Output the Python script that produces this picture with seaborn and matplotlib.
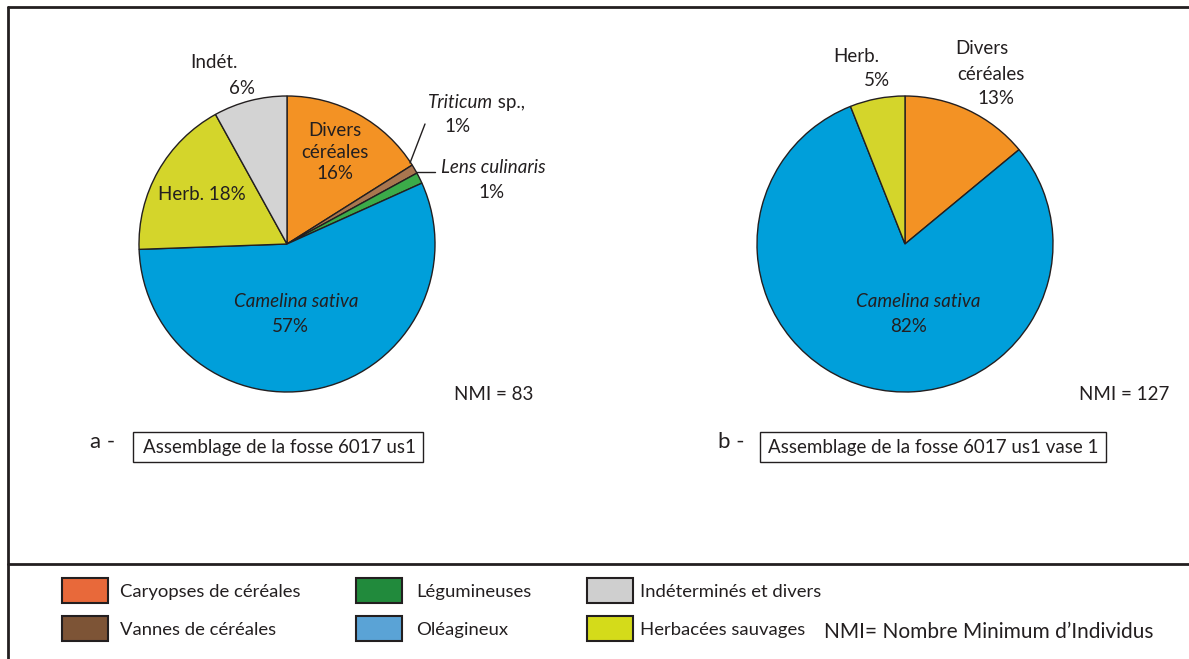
import matplotlib.pyplot as plt
import seaborn as sns
from matplotlib.patches import Rectangle
from matplotlib.lines import Line2D

# data <<<<<<<<<<<<<<<<<<
names_a = ['Divers\ncéréales', 'Triticum', 'Lens culinaris', 'Camelina sativa', 'Herb.', 'Indét.']
vals_a = [16, 1, 1.2, 56, 17.5, 8]          # wedge sizes
pct_a = ['16%', '1%', '1%', '57%', '18%', '6%']
cols_a = ['#f39224', '#a9764f', '#3bab49', '#009fda', '#d4d52b', '#d3d3d3']

names_b = ['Divers', 'céréales', 'Camelina sativa', 'Herb.']
vals_b = [14, 80, 6]
pct_b = ['13%', '82%', '5%']
cols_b = ['#f39224', '#009fda', '#d4d52b']

nmi_a = 83
nmi_b = 127
title_a = 'Assemblage de la fosse 6017 us1'
title_b = 'Assemblage de la fosse 6017 us1 vase 1'

legend_labels = ['Caryopses de céréales', 'Vannes de céréales', 'Légumineuses',
                 'Oléagineux', 'Indéterminés et divers', 'Herbacées sauvages']
legend_colors = ['#e8693a', '#7d5436', '#218a3c', '#5aa3d6', '#cfcfcf', '#d4db1a']
nmi_note = 'NMI= Nombre Minimum d\u2019Individus'

#Global parameters>>>>>>>>>>>>>>>>>>>>>>>>>>
sns.set_theme(style="white")
plt.rcParams['font.family'] = ['Lato', 'DejaVu Sans']
W, H = 1189, 659
fig = plt.figure(figsize=(W / 100, H / 100), dpi=100)
ink = '#231f20'
fs = 13.5


def put(x, y, s, ha='center', va='center', **kw):
    return fig.text(x / W, 1 - y / H, s, ha=ha, va=va, color=ink, fontsize=kw.pop('fontsize', fs),
                    linespacing=1.3, **kw)


def line(x0, y0, x1, y1, lw=1.0):
    fig.add_artist(Line2D([x0 / W, x1 / W], [1 - y0 / H, 1 - y1 / H], transform=fig.transFigure,
                          color=ink, lw=lw))


def box(x0, y0, x1, y1, fc='none', lw=1.0, ec=ink):
    fig.add_artist(Rectangle((x0 / W, 1 - y1 / H), (x1 - x0) / W, (y1 - y0) / H,
                             transform=fig.transFigure, fc=fc, ec=ec, lw=lw))


def pie(cx, cy, r, vals, cols):
    m = 1.03
    ax = fig.add_axes([(cx - r * m) / W, 1 - (cy + r * m) / H, 2 * r * m / W, 2 * r * m / H])
    ax.pie(vals, colors=cols, startangle=90, counterclock=False, radius=1,
           wedgeprops={'edgecolor': ink, 'linewidth': 1})
    ax.set_xlim(-m, m)
    ax.set_ylim(-m, m)
    ax.set_axis_off()
    return ax


# frame
line(8, 7, W, 7, lw=2)
line(8, 7, 8, H, lw=2)
line(8, 564, W, 564, lw=2)

# pie a
pie(287, 244, 148, vals_a, cols_a)
put(214, 63, names_a[5])
put(242, 88, pct_a[5])
put(335, 152, names_a[0] + '\n' + pct_a[0])
t = put(428, 111, names_a[1], ha='left', va='bottom', style='italic')
plt.annotate(' sp.,', xy=(1, 0), xycoords=t, ha='left', va='bottom', color=ink, fontsize=fs)
put(457, 127, pct_a[1])
line(425, 124, 410, 163)
put(493, 168, names_a[2], style='italic')
put(492, 193, pct_a[2])
line(416, 172, 435, 172)
put(202, 195, names_a[4] + ' ' + pct_a[4])
put(296, 302, names_a[3], style='italic')
put(290, 326, pct_a[3])
put(494, 394, 'NMI = %d' % nmi_a)

# pie b
pie(905, 244, 148, vals_b, cols_b)
put(856, 57, names_b[3])
put(877, 81, pct_b[2])
put(982, 49, names_b[0])
put(991, 74, names_b[1])
put(996, 98, pct_b[0])
put(918, 302, names_b[2], style='italic')
put(909, 326, pct_b[1])
put(1124, 394, 'NMI = %d' % nmi_b)

# panel titles
put(103, 442, 'a -', fontsize=16)
box(133, 432, 423, 462)
put(143, 448, title_a, ha='left')
put(731, 442, 'b -', fontsize=16)
box(760, 432, 1106, 462)
put(768, 448, title_b, ha='left')

# legend
sw_x = [62, 356, 587]
sw_y = [578, 616]
txt_dx = [58, 60, 53]
for i, (lab, col) in enumerate(zip(legend_labels, legend_colors)):
    c, r = divmod(i, 2)
    x0, y0 = sw_x[c], sw_y[r]
    box(x0, y0, x0 + 46, y0 + 25, fc=col, lw=1.5)
    put(x0 + txt_dx[c], y0 + 14, lab, ha='left', fontsize=13.3)
put(824, 632, nmi_note, ha='left', fontsize=15)

fig.savefig('out.png', dpi=100)
